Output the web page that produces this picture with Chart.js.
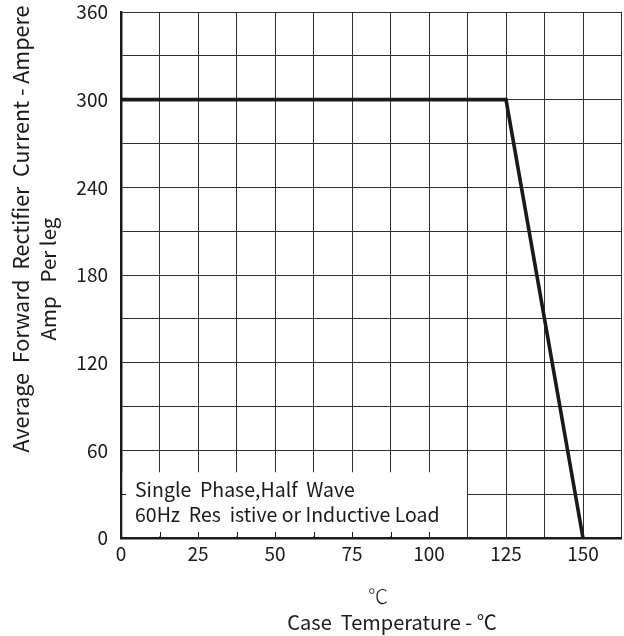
<!DOCTYPE html>
<html>
<head>
<meta charset="utf-8">
<script src="https://cdn.jsdelivr.net/npm/chart.js@4/dist/chart.umd.min.js"></script>
<style>
  html, body { margin: 0; padding: 0; background: #fff; }
  #wrap { width: 624px; height: 636px; position: relative; }
</style>
</head>
<body>
<div id="wrap"><canvas id="derating"></canvas></div>
<script>
(function () {
  'use strict';

  // ── 데이터 ─────────────────────────────────────────────
  const caseTemp = [0, 125, 150];
  const currentA = [300, 300, 0];
  const xTickLabels = [0, 25, 50, 75, 100, 125, 150];
  const yTickLabels = [0, 60, 120, 180, 240, 300, 360];
  const noteLines = ['Single  Phase,Half  Wave', '60Hz  Res  istive or Inductive Load'];
  const noteBox = { xMax: 112.5, yMax: 45 };
  const yTitle = ['Average  Forward  Rectifier  Current - Ampere', 'Amp   Per leg'];
  const xTitle = ['\u2103', 'Case  Temperature - \u2103'];

  const FONT = '"Noto Sans CJK SC", "Open Sans", sans-serif';
  const INK = '#1a1a1a';

  // ── 주석 박스 + 축 제목 ─────────────────────────────────
  const notePlugin = {
    id: 'note',
    beforeDatasetsDraw(chart) {
      const { ctx, chartArea: a, scales: { x, y } } = chart;
      const rx = x.getPixelForValue(noteBox.xMax) - 0.6;
      const ry = y.getPixelForValue(noteBox.yMax);
      ctx.save();
      ctx.fillStyle = '#fff';
      ctx.fillRect(a.left + 1.6, ry, rx - a.left - 1.6, a.bottom - 1.6 - ry);

      // 박스 안쪽 짧은 눈금
      ctx.strokeStyle = INK;
      ctx.lineWidth = 1;
      x.ticks.forEach(t => {
        if (t.value <= 0 || t.value >= noteBox.xMax) return;
        const px = Math.round(x.getPixelForValue(t.value)) + 0.5;
        ctx.beginPath(); ctx.moveTo(px, a.bottom); ctx.lineTo(px, a.bottom - 6); ctx.stroke();
      });
      y.ticks.forEach(t => {
        if (t.value <= 0 || t.value >= noteBox.yMax) return;
        const py = Math.round(y.getPixelForValue(t.value)) + 0.5;
        ctx.beginPath(); ctx.moveTo(a.left, py); ctx.lineTo(a.left + 5, py); ctx.stroke();
      });

      ctx.fillStyle = INK;
      ctx.font = '19.5px ' + FONT;
      ctx.textAlign = 'left';
      ctx.textBaseline = 'alphabetic';
      ctx.fillText(noteLines[0], a.left + 14, a.bottom - 41);
      ctx.fillText(noteLines[1], a.left + 14, a.bottom - 16);
      ctx.restore();
    },
    afterDraw(chart) {
      const { ctx, chartArea: a } = chart;
      ctx.save();
      ctx.fillStyle = INK;
      ctx.textAlign = 'center';
      ctx.textBaseline = 'alphabetic';
      ctx.font = '21.5px ' + FONT;

      // y축 제목 (회전)
      ctx.save();
      ctx.translate(29, 229);
      ctx.rotate(-Math.PI / 2);
      ctx.fillText(yTitle[0], 0, 0);
      ctx.restore();
      ctx.font = '20.5px ' + FONT;
      ctx.save();
      ctx.translate(56, 279);
      ctx.rotate(-Math.PI / 2);
      ctx.fillText(yTitle[1], 0, 0);
      ctx.restore();

      // x축 제목
      ctx.font = '300 20px ' + FONT;
      ctx.fillText(xTitle[0], 378, a.bottom + 66);
      ctx.font = '20px ' + FONT;
      ctx.fillText(xTitle[1], 392, a.bottom + 92);
      ctx.restore();
    }
  };

  const grid = { color: '#2e2e2e', lineWidth: 1, drawTicks: false };
  const border = { color: INK, width: 2.5 };

  new Chart(document.getElementById('derating'), {
    type: 'scatter',
    data: {
      datasets: [{
        data: caseTemp.map((t, i) => ({ x: t, y: currentA[i] })),
        showLine: true,
        borderColor: INK,
        borderWidth: 3.6,
        pointRadius: 0,
        tension: 0
      }]
    },
    options: {
      responsive: true,
      maintainAspectRatio: false,
      animation: false,
      layout: { padding: { top: 12, right: 2.5, left: 0, bottom: 0 } },
      plugins: { legend: { display: false }, tooltip: { enabled: false } },
      scales: {
        x: {
          type: 'linear', min: 0, max: 162.5,
          grid, border,
          afterFit: s => { s.height = 98; s.paddingLeft = 0; s.paddingRight = 0; },
          ticks: {
            stepSize: 12.5, autoSkip: false, maxRotation: 0, padding: 4,
            color: INK, font: { family: FONT, size: 19 },
            callback: v => xTickLabels.includes(v) ? String(v) : ''
          }
        },
        y: {
          min: 0, max: 360,
          grid, border,
          afterFit: s => { s.width = 121; s.paddingTop = 0; s.paddingBottom = 0; },
          ticks: {
            stepSize: 30, autoSkip: false, padding: 13,
            color: INK, font: { family: FONT, size: 19 },
            callback: v => yTickLabels.includes(v) ? String(v) : ''
          }
        }
      }
    },
    plugins: [notePlugin]
  });
})();
</script>
</body>
</html>
